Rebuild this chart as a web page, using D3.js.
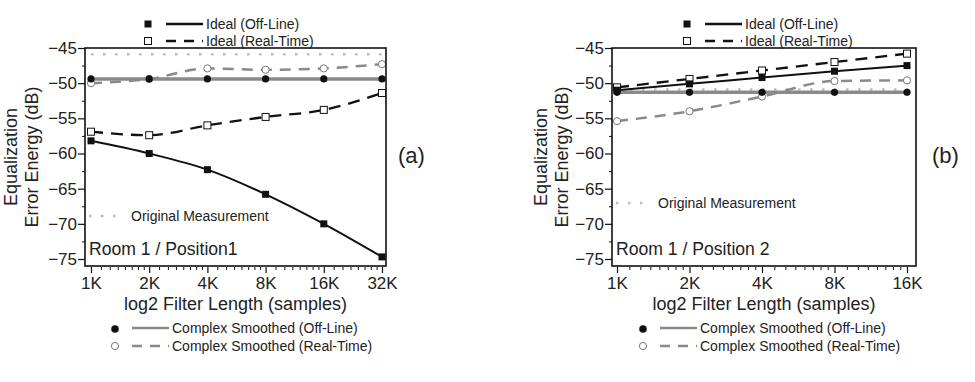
<!DOCTYPE html>
<html><head><meta charset="utf-8">
<script src="https://cdn.jsdelivr.net/npm/d3@7"></script>
<style>body{margin:0;background:#fff}svg{display:block}text{font-family:"Liberation Sans",Arial,Helvetica,sans-serif;fill:#222}</style>
</head><body><svg id="c" width="975" height="382"></svg>
<script>
// ---- data ----
const yTicks = [-45, -50, -55, -60, -65, -70, -75];
const xValuesA = [1, 2, 4, 8, 16, 32];
const xLabelsA = ["1K", "2K", "4K", "8K", "16K", "32K"];
const idealOffA = [-58.2, -60.0, -62.3, -65.8, -70.0, -74.7];
const idealRtA  = [-56.9, -57.4, -56.0, -54.8, -53.8, -51.4];
const csOffA    = [-49.4, -49.4, -49.4, -49.4, -49.4, -49.4];
const csRtA     = [-50.0, -49.4, -47.9, -48.1, -47.9, -47.3];
const origA     = -45.9;

const xValuesB = [1, 2, 4, 8, 16];
const xLabelsB = ["1K", "2K", "4K", "8K", "16K"];
const idealOffB = [-51.0, -50.1, -49.2, -48.3, -47.5];
const idealRtB  = [-50.6, -49.4, -48.2, -47.0, -45.8];
const csOffB    = [-51.3, -51.3, -51.3, -51.3, -51.3];
const csRtB     = [-55.4, -54.0, -51.9, -49.7, -49.6];
const origB     = -50.9;

const svg = d3.select("#c");
const GRAY = "#8a8a8a", LGRAY = "#bdbdbd";
const LF = "14px";

function panel(cfg) {
  const g = svg.append("g");
  const x = d3.scaleLog().base(2).domain([cfg.xv[0], cfg.xv[cfg.xv.length - 1]]).range([cfg.x0, cfg.x1]);
  const y = d3.scaleLinear().domain([-75, -45]).range([259, 48]);
  const fL = cfg.fL, fR = cfg.fR, fT = 48, fB = 266;

  // original measurement (dotted)
  g.append("line").attr("x1", fL + 6).attr("x2", fR - 4).attr("y1", y(cfg.orig)).attr("y2", y(cfg.orig))
    .attr("stroke", LGRAY).attr("stroke-width", 2.5).attr("stroke-dasharray", "2.5,9.5");

  const pts = arr => arr.map((v, i) => [x(cfg.xv[i]), y(v)]);
  const line = d3.line().curve(d3.curveMonotoneX);

  g.append("path").attr("d", line(pts(cfg.csRt))).attr("fill", "none").attr("stroke", GRAY)
    .attr("stroke-width", 2.5).attr("stroke-dasharray", "11,8");
  g.append("path").attr("d", line(pts(cfg.csOff))).attr("fill", "none").attr("stroke", GRAY)
    .attr("stroke-width", 3.5);
  g.append("path").attr("d", line(pts(cfg.idRt))).attr("fill", "none").attr("stroke", "#111")
    .attr("stroke-width", 2.3).attr("stroke-dasharray", "12,8");
  g.append("path").attr("d", line(pts(cfg.idOff))).attr("fill", "none").attr("stroke", "#111")
    .attr("stroke-width", 2);

  // markers
  g.selectAll(null).data(pts(cfg.csRt)).join("circle").attr("cx", d => d[0]).attr("cy", d => d[1])
    .attr("r", 3.6).attr("fill", "#fff").attr("stroke", "#777").attr("stroke-width", 1);
  g.selectAll(null).data(pts(cfg.csOff)).join("circle").attr("cx", d => d[0]).attr("cy", d => d[1])
    .attr("r", 3.6).attr("fill", "#111");
  g.selectAll(null).data(pts(cfg.idRt)).join("rect").attr("x", d => d[0] - 3.5).attr("y", d => d[1] - 3.5)
    .attr("width", 7).attr("height", 7).attr("fill", "#fff").attr("stroke", "#111").attr("stroke-width", 1);
  g.selectAll(null).data(pts(cfg.idOff)).join("rect").attr("x", d => d[0] - 3.5).attr("y", d => d[1] - 3.5)
    .attr("width", 7).attr("height", 7).attr("fill", "#111");

  // frame
  g.append("rect").attr("x", fL).attr("y", fT).attr("width", fR - fL).attr("height", fB - fT)
    .attr("fill", "none").attr("stroke", "#111").attr("stroke-width", 1.6);

  // y axis
  const yMinor = d3.range(-75, -44.9, 2.5).filter(v => v % 5 !== 0);
  const ya = g.append("g").attr("transform", `translate(${fL},0)`)
    .call(d3.axisLeft(y).tickValues(yTicks).tickSize(7).tickPadding(1).tickFormat(d3.format("d")));
  ya.select(".domain").remove();
  ya.selectAll("text").style("font-size", "17px").attr("fill", "#222");
  ya.selectAll("line").attr("stroke", "#111").attr("stroke-width", 1.2);
  g.append("g").attr("transform", `translate(${fL},0)`)
    .call(d3.axisLeft(y).tickValues(yMinor).tickSize(3).tickFormat(""))
    .call(s => s.select(".domain").remove()).selectAll("line").attr("stroke", "#111");

  // x axis
  const xMinor = [];
  for (let i = 0; i < cfg.xv.length - 1; i++) {
    const a = cfg.xv[i];
    for (let k = 1; k < 8; k++) xMinor.push(a * (1 + k / 8));
  }
  const xa = g.append("g").attr("transform", `translate(0,${fB + 1})`)
    .call(d3.axisBottom(x).tickValues(cfg.xv).tickSize(6).tickPadding(4).tickFormat((d, i) => cfg.xl[i]));
  xa.select(".domain").remove();
  xa.selectAll("text").style("font-size", "17px").attr("fill", "#222");
  xa.selectAll("line").attr("stroke", "#111").attr("stroke-width", 1.2);
  g.append("g").attr("transform", `translate(0,${fB + 1})`)
    .call(d3.axisBottom(x).tickValues(xMinor).tickSize(3).tickFormat(""))
    .call(s => s.select(".domain").remove()).selectAll("line").attr("stroke", "#111");

  // titles
  const cx = (fL + fR) / 2;
  g.append("text").attr("x", cx).attr("y", 310).attr("text-anchor", "middle").style("font-size", "18px")
    .text("log2 Filter Length (samples)");
  const yt = g.append("text").attr("transform", `translate(${cfg.ytx},157) rotate(-90)`)
    .attr("text-anchor", "middle").style("font-size", "18px");
  yt.append("tspan").attr("x", 0).attr("dy", 0).text("Equalization");
  yt.append("tspan").attr("x", 0).attr("dy", 21).text("Error Energy (dB)");

  g.append("text").attr("x", fL + 4).attr("y", 255).style("font-size", "17.6px").text(cfg.room);
  g.append("text").attr("x", cfg.lblX).attr("y", 163).style("font-size", "22px").text(cfg.lbl);

  // original measurement legend
  g.append("line").attr("x1", fL + 4).attr("x2", fL + 34).attr("y1", cfg.omY).attr("y2", cfg.omY)
    .attr("stroke", LGRAY).attr("stroke-width", 2.5).attr("stroke-dasharray", "2.5,9.5");
  g.append("text").attr("x", fL + 46).attr("y", cfg.omY + 5).style("font-size", LF).text("Original Measurement");

  // top legend
  const tl = cfg.topL;
  g.append("rect").attr("x", tl - 3.5).attr("y", 24 - 3.5).attr("width", 7).attr("height", 7).attr("fill", "#111");
  g.append("line").attr("x1", tl + 18).attr("x2", tl + 55).attr("y1", 24).attr("y2", 24).attr("stroke", "#111").attr("stroke-width", 2.4);
  g.append("text").attr("x", tl + 58).attr("y", 29).style("font-size", LF).text("Ideal (Off-Line)");
  g.append("rect").attr("x", tl - 3.5).attr("y", 41 - 3.5).attr("width", 7).attr("height", 7).attr("fill", "#fff").attr("stroke", "#111");
  g.append("line").attr("x1", tl + 18).attr("x2", tl + 55).attr("y1", 41).attr("y2", 41).attr("stroke", "#111").attr("stroke-width", 2.4).attr("stroke-dasharray", "10,8");
  g.append("text").attr("x", tl + 58).attr("y", 46).style("font-size", LF).text("Ideal (Real-Time)");

  // bottom legend
  const bl = cfg.botL;
  g.append("circle").attr("cx", bl).attr("cy", 329).attr("r", 3.8).attr("fill", "#111");
  g.append("line").attr("x1", bl + 17).attr("x2", bl + 54).attr("y1", 328).attr("y2", 328).attr("stroke", GRAY).attr("stroke-width", 2.5);
  g.append("text").attr("x", bl + 57).attr("y", 333).style("font-size", LF).text("Complex Smoothed (Off-Line)");
  g.append("circle").attr("cx", bl).attr("cy", 346).attr("r", 3.6).attr("fill", "#fff").attr("stroke", "#777");
  g.append("line").attr("x1", bl + 17).attr("x2", bl + 54).attr("y1", 346).attr("y2", 346).attr("stroke", GRAY).attr("stroke-width", 2.5).attr("stroke-dasharray", "10,8");
  g.append("text").attr("x", bl + 57).attr("y", 351).style("font-size", LF).text("Complex Smoothed (Real-Time)");
}

panel({xv: xValuesA, xl: xLabelsA, idOff: idealOffA, idRt: idealRtA, csOff: csOffA, csRt: csRtA, orig: origA,
  x0: 91, x1: 382, fL: 85, fR: 386, ytx: 17, room: "Room 1 / Position1", lbl: "(a)", lblX: 398, omY: 216,
  topL: 148, botL: 115});
panel({xv: xValuesB, xl: xLabelsB, idOff: idealOffB, idRt: idealRtB, csOff: csOffB, csRt: csRtB, orig: origB,
  x0: 617, x1: 907, fL: 612, fR: 916, ytx: 547, room: "Room 1 / Position 2", lbl: "(b)", lblX: 932, omY: 203,
  topL: 687, botL: 643});
</script></body></html>
